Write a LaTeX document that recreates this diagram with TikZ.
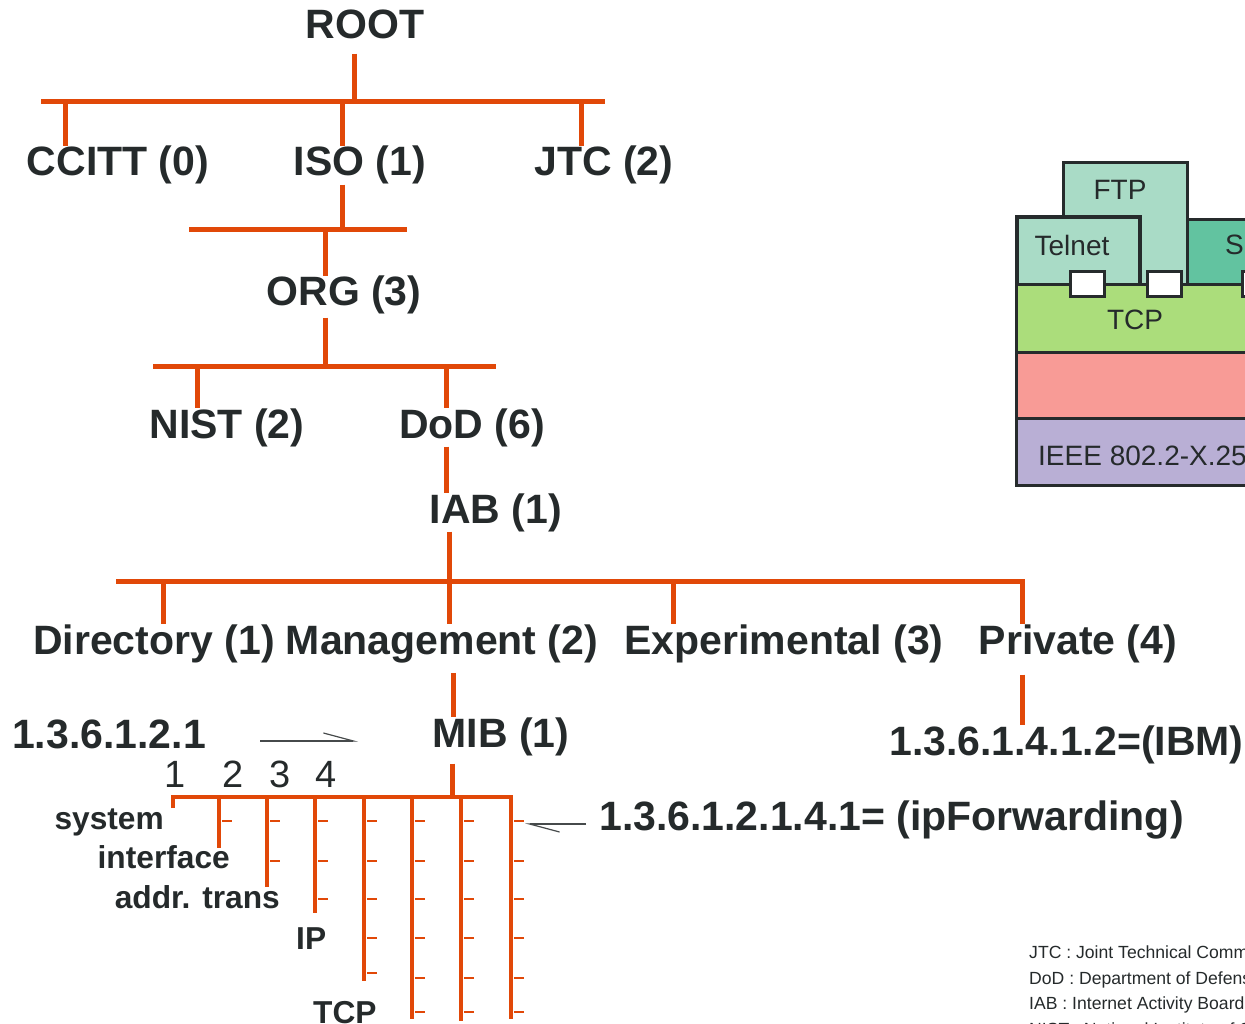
\documentclass[tikz,border=0pt]{standalone}
\usepackage{fontspec}
\setmainfont{Liberation Sans}
\usetikzlibrary{arrows.meta}
\definecolor{treeorange}{RGB}{225,72,8}
\definecolor{ink}{RGB}{37,42,43}
\definecolor{frame}{RGB}{38,43,44}
\definecolor{mint}{RGB}{169,219,198}
\definecolor{smtpgreen}{RGB}{98,195,160}
\definecolor{tcpgreen}{RGB}{171,221,123}
\definecolor{salmon}{RGB}{248,155,150}
\definecolor{lavender}{RGB}{185,175,213}
\tikzset{
	branch/.style={draw=treeorange, line width=5pt},
	twig/.style={draw=treeorange, line width=4.5pt},
	notch/.style={draw=treeorange, line width=1.2pt},
	oid/.style={font=\bfseries\fontsize{41}{41}\selectfont, text=ink, inner sep=0pt, anchor=base},
	leafname/.style={font=\bfseries\fontsize{31.7}{32}\selectfont, text=ink, inner sep=0pt},
	idx/.style={font=\fontsize{38}{38}\selectfont, text=ink, inner sep=0pt, anchor=base},
	pointer/.style={draw=ink!85, line width=1.2pt, -{Straight Barb[left, length=30pt, width=16pt]}},
	stackbox/.style={draw=frame, line width=3pt},
	layertext/.style={font=\fontsize{28}{28}\selectfont, text=ink, inner sep=0pt},
	note/.style={font=\fontsize{17.6}{18}\selectfont, text=ink, inner sep=0pt, anchor=base west}
}

\begin{document}
\begin{tikzpicture}[x=1pt, y=-1pt]
	\useasboundingbox (0,0) rectangle (1245,1024);
	\clip (0,0) rectangle (1245,1024);

	\node[oid] (root) at (365,39) {ROOT};
	\node[oid] (ccitt) at (118,176) {CCITT (0)};
	\node[oid] (iso) at (360,176) {ISO (1)};
	\node[oid] (jtc) at (604,176) {JTC (2)};
	\node[oid] (org) at (344,306) {ORG (3)};
	\node[oid] (nist) at (227,438) {NIST (2)};
	\node[oid] (dod) at (472,438) {DoD (6)};
	\node[oid] (iab) at (496,523) {IAB (1)};
	\node[oid] (directory) at (154,654) {Directory (1)};
	\node[oid] (mgmt) at (442,654) {Management (2)};
	\node[oid] (experimental) at (784,654) {Experimental (3)};
	\node[oid] (private) at (1078,654) {Private (4)};
	\node[oid] (mib) at (501,747) {MIB (1)};
	\node[oid, anchor=base west] (ibm) at (889,755) {1.3.6.1.4.1.2=(IBM)};
	\node[oid, anchor=base west] (mibnum) at (12,748) {1.3.6.1.2.1};
	\node[oid, anchor=base west] (ipfwd) at (599,830) {1.3.6.1.2.1.4.1= (ipForwarding)};

	\foreach \n/\x in {1/175, 2/233, 3/280, 4/326}
		\node[idx] (g\n) at (\x,787) {\n};

	\node[leafname, anchor=base east] (system) at (164,829) {system};
	\node[leafname, anchor=base east] (interface) at (230,868) {interface};
	\node[leafname, anchor=base east] (addrtrans) at (280,908) {addr. trans};
	\node[leafname, anchor=base west] (ip) at (296,949) {IP};
	\node[leafname, anchor=base west] (tcp) at (313,1023) {TCP};

	\coordinate (bar1w) at (41,102);
	\coordinate (bar1e) at (605,102);
	\coordinate (bar2w) at (189,230);
	\coordinate (bar2e) at (407,230);
	\coordinate (bar3w) at (153,366);
	\coordinate (bar3e) at (496,366);
	\coordinate (bar4w) at (116,581);
	\coordinate (bar4e) at (1022,581);

	\draw[branch] (bar1w) -- (bar1e);
	\draw[branch] (354,0 |- root.south) ++(0,14) -- (354,0 |- bar1w);
	\foreach \x/\n in {65/ccitt, 342/iso, 581/jtc}
		\draw[branch] (\x,0 |- bar1w) -- (\x,0 |- \n.north);
	\draw[branch] (342,0 |- iso.south) -- (342,0 |- bar2w);
	\draw[branch] (bar2w) -- (bar2e);
	\draw[branch] (325,0 |- bar2w) -- (325,0 |- org.north);
	\draw[branch] (325,0 |- org.south) ++(0,3) -- (325,0 |- bar3w);
	\draw[branch] (bar3w) -- (bar3e);
	\foreach \x/\n in {197/nist, 446/dod}
		\draw[branch] (\x,0 |- bar3w) -- (\x,0 |- \n.north);
	\draw[branch] (446,0 |- dod.south) -- (446,0 |- iab.north);
	\draw[branch] (449,0 |- iab.south) -- (449,0 |- bar4w);
	\draw[branch] (bar4w) -- (bar4e) -- (bar4e |- private.north);
	\foreach \x/\n in {163/directory, 449/mgmt, 673/experimental}
		\draw[branch] (\x,0 |- bar4w) -- (\x,0 |- \n.north);
	\draw[branch] (453,0 |- mgmt.south) ++(0,10) -- (453,0 |- mib.north);
	\draw[branch] (1022,0 |- private.south) ++(0,12) -- (1022,0 |- ibm.north);

	\coordinate (mibw) at (173,797);
	\coordinate (mibe) at (511,797);
	\draw[branch] (452,0 |- mib.south) ++(0,8) -- (452,0 |- mibw);
	\draw[twig] (173,808) -- (mibw) -- (mibe) -- (511,1019);
	\foreach \x/\e/\ys in {219/848/{821}, 267/887/{821,861}, 315/913/{821,861,899},
			364/981/{821,861,899,938,973}, 412/1019/{821,861,899,938,978,1012},
			461/1021/{821,861,899,938,978,1012}, 511/1019/{821,861,899,938,978,1012}} {
		\coordinate (leaf\x) at (\x,\e);
		\draw[twig] (\x,0 |- mibw) -- (leaf\x);
		\foreach \t in \ys
			\draw[notch] (\x+3,\t) -- (\x+13,\t);
	}

	\coordinate (arrowtip1) at (358,741);
	\draw[pointer, shorten <=54pt] (mibnum.east |- arrowtip1) -- (arrowtip1);
	\coordinate (arrowtip2) at (525,824);
	\draw[pointer] (ipfwd.west |- arrowtip2) ++(-13,0) -- (arrowtip2);

	\draw[stackbox, fill=mint] (1063,163) rectangle (1187,290);
	\node[layertext] (ftp) at (1120,190) {FTP};
	\draw[stackbox, fill=smtpgreen] (1187,220) rectangle (1260,290);
	\node[layertext, anchor=base west] (smtp) at (1225,255) {SMTP};
	\draw[stackbox, line width=4pt, fill=mint] (1017,217) rectangle (1140,290);
	\node[layertext] (telnet) at (1072,245) {Telnet};
	\draw[stackbox, fill=tcpgreen] (1016,285) rectangle (1260,352);
	\node[layertext] (tcpl) at (1135,320) {TCP};
	\draw[stackbox, fill=salmon] (1016,352) rectangle (1260,418);
	\draw[stackbox, fill=lavender] (1016,418) rectangle (1260,485);
	\node[layertext, anchor=west] (ieee) at (1038,456) {IEEE 802.2-X.25};
	\foreach \x in {1070,1147,1242}
		\draw[stackbox, fill=white] (\x,272) rectangle ++(34,25);

	\node[note] (n1) at (1029,958) {JTC : Joint Technical Committee};
	\node[note] (n2) at (1029,984) {DoD : Department of Defense};
	\node[note] (n3) at (1029,1009) {IAB : Internet Activity Board};
	\node[note] (n4) at (1029,1035) {NIST : National Institute of Standards and Technology};
\end{tikzpicture}
\end{document}
